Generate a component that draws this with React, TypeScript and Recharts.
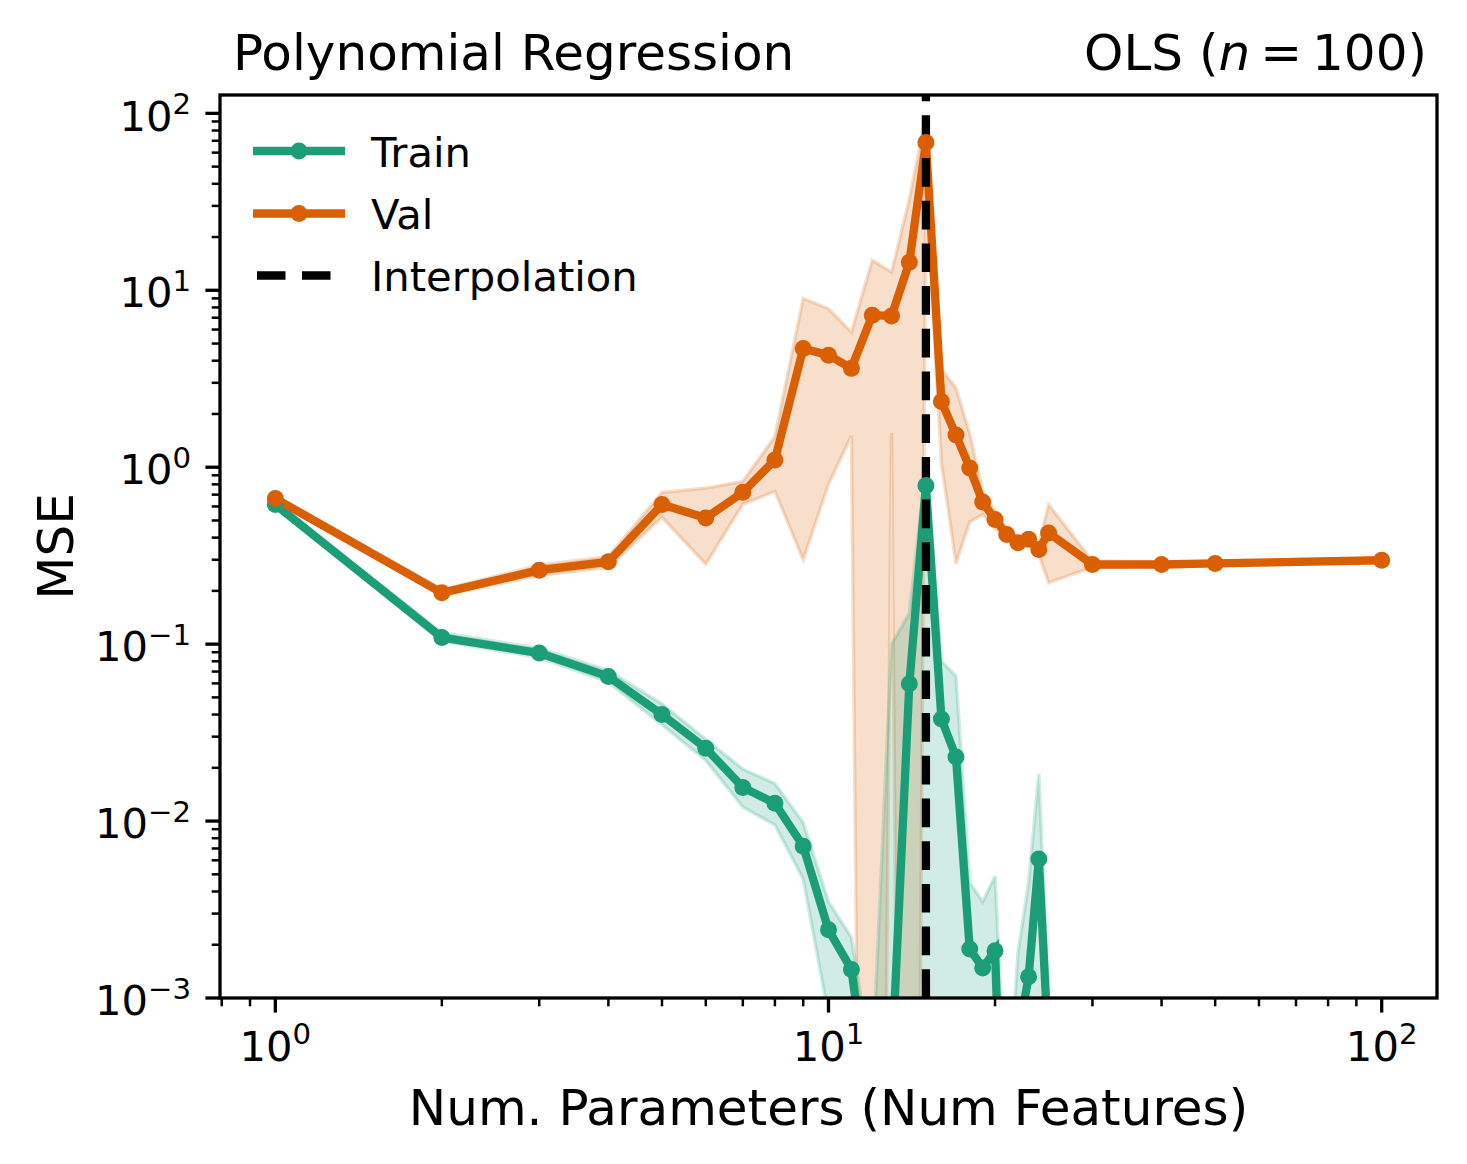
import React from 'react';
import {
  ComposedChart, Line, Area, XAxis, YAxis, ReferenceLine,
} from 'recharts';

// number of features used in each polynomial fit
const nParams = [1, 2, 3, 4, 5, 6, 7, 8, 9, 10, 11, 12, 13, 14, 15, 16, 17, 18, 19, 20, 21, 22, 23, 24, 25, 30, 40, 50, 100];

const trainMse = [0.615, 0.109, 0.089, 0.0657, 0.040, 0.0258, 0.0155, 0.0126, 0.0072, 0.00243, 0.00145, 2e-4, 4e-4, 0.0598, 0.787, 0.0378, 0.023, 0.00189, 0.00148, 0.00185, 2e-5, 6e-4, 0.00132, 0.0061, 5e-4, 8e-6, 5e-6, 4e-6, 2e-6];
const trainLow = [0.60, 0.104, 0.084, 0.061, 0.035, 0.022, 0.012, 0.0095, 0.0047, 0.0008, 0.0006, 1e-12, 1e-12, 1e-12, 1e-12, 1e-12, 1e-12, 1e-12, 1e-12, 1e-12, 1e-12, 1e-12, 1e-12, 1e-12, 1e-12, 1e-12, 1e-12, 1e-12, 1e-12];
const trainHigh = [0.63, 0.116, 0.095, 0.071, 0.046, 0.029, 0.0197, 0.0163, 0.0098, 0.0035, 0.0022, 4e-4, 0.1, 0.15, 1.0, 0.08, 0.066, 0.0045, 0.0035, 0.0049, 2e-4, 0.0018, 0.0045, 0.0185, 9e-4, 5e-5, 3e-5, 2e-5, 1e-5];

const valMse = [0.665, 0.195, 0.262, 0.292, 0.615, 0.517, 0.721, 1.10, 4.69, 4.30, 3.62, 7.23, 7.16, 14.4, 68.5, 2.35, 1.52, 0.99, 0.635, 0.506, 0.417, 0.374, 0.391, 0.343, 0.425, 0.282, 0.282, 0.286, 0.298];
const valLow = [0.65, 0.188, 0.245, 0.272, 0.52, 0.283, 0.617, 0.73, 0.30, 0.80, 1.50, 1e-12, 1.56, 1e-12, 40.0, 1.05, 0.286, 0.49, 0.54, 0.45, 0.39, 0.355, 0.37, 0.32, 0.222, 0.272, 0.276, 0.28, 0.29];
const valHigh = [0.68, 0.203, 0.28, 0.313, 0.72, 0.762, 0.832, 1.49, 9.0, 7.87, 5.82, 14.8, 12.7, 32.8, 96.8, 3.6, 2.8, 1.55, 0.73, 0.56, 0.45, 0.40, 0.42, 0.37, 0.615, 0.295, 0.29, 0.293, 0.306];

const interpolationAt = 15;

const xTicks = [0.8, 0.9, 1, 2, 3, 4, 5, 6, 7, 8, 9, 10, 20, 30, 40, 50, 60, 70, 80, 90, 100];
const yTicks = [
  0.001, 0.002, 0.003, 0.004, 0.005, 0.006, 0.007, 0.008, 0.009,
  0.01, 0.02, 0.03, 0.04, 0.05, 0.06, 0.07, 0.08, 0.09,
  0.1, 0.2, 0.3, 0.4, 0.5, 0.6, 0.7, 0.8, 0.9,
  1, 2, 3, 4, 5, 6, 7, 8, 9,
  10, 20, 30, 40, 50, 60, 70, 80, 90, 100,
];

const data = nParams.map((x, i) => ({
  x,
  train: trainMse[i],
  trainBand: [trainLow[i], trainHigh[i]],
  val: valMse[i],
  valBand: [valLow[i], valHigh[i]],
}));

const GREEN = '#1b9e77';
const ORANGE = '#d95f02';
const FONT = '"DejaVu Sans", sans-serif';
const W = 1467;
const H = 1164;
const PLOT = { left: 220, top: 95, right: 1437, bottom: 998 };

const MAJOR_LEN = 14.6;
const MINOR_LEN = 8.3;
const LW = 8.3;
const DOT_R = 8.5;

function exponent(v: number) {
  const e = Math.round(Math.log10(v));
  return Math.abs(Math.log10(v) - e) < 1e-6 ? e : null;
}
const sup = (e: number) => (e < 0 ? '\u2212' + Math.abs(e) : String(e));

function XTick(props: any) {
  const { x, payload } = props;
  const e = exponent(payload.value);
  const major = e !== null;
  return (
    <g>
      <line x1={x} x2={x} y1={PLOT.bottom} y2={PLOT.bottom + (major ? MAJOR_LEN : MINOR_LEN)}
        stroke="#000" strokeWidth={major ? 3.3 : 2.5} />
      {major && (
        <text x={x} y={1061} textAnchor="middle" fontFamily={FONT} fontSize={41.7} fill="#000">
          10<tspan dy={-16.7} fontSize={29.2}>{sup(e as number)}</tspan>
        </text>
      )}
    </g>
  );
}

function YTick(props: any) {
  const { y, payload } = props;
  const e = exponent(payload.value);
  const major = e !== null;
  return (
    <g>
      <line x1={PLOT.left - (major ? MAJOR_LEN : MINOR_LEN)} x2={PLOT.left} y1={y} y2={y}
        stroke="#000" strokeWidth={major ? 3.3 : 2.5} />
      {major && (
        <text x={191} y={y + 17.2} textAnchor="end" fontFamily={FONT} fontSize={41.7} fill="#000">
          10<tspan dy={-16.7} fontSize={29.2}>{sup(e as number)}</tspan>
        </text>
      )}
    </g>
  );
}

function Overlay() {
  return (
    <svg width={W} height={H} style={{ position: 'absolute', left: 0, top: 0, pointerEvents: 'none' }}>
      <rect x={PLOT.left} y={PLOT.top} width={PLOT.right - PLOT.left} height={PLOT.bottom - PLOT.top}
        fill="none" stroke="#000" strokeWidth={3.3} />
      <text x={233} y={70} fontFamily={FONT} fontSize={50} fill="#000">Polynomial Regression</text>
      <text x={1427} y={70} textAnchor="end" fontFamily={FONT} fontSize={50} fill="#000">
        OLS (<tspan fontStyle="italic">n</tspan>{'\u2009=\u2009'}100)
      </text>
      <text x={(PLOT.left + PLOT.right) / 2} y={1125} textAnchor="middle" fontFamily={FONT} fontSize={50} fill="#000">
        Num. Parameters (Num Features)
      </text>
      <text transform={`translate(73, ${(PLOT.top + PLOT.bottom) / 2}) rotate(-90)`} textAnchor="middle"
        fontFamily={FONT} fontSize={50} fill="#000">MSE</text>

      {/* legend */}
      <line x1={253} x2={345} y1={151} y2={151} stroke={GREEN} strokeWidth={LW} />
      <circle cx={299} cy={151} r={DOT_R} fill={GREEN} />
      <text x={371} y={166.5} fontFamily={FONT} fontSize={41.7} fill="#000">Train</text>
      <line x1={253} x2={345} y1={213.5} y2={213.5} stroke={ORANGE} strokeWidth={LW} />
      <circle cx={299} cy={213.5} r={DOT_R} fill={ORANGE} />
      <text x={371} y={228.5} fontFamily={FONT} fontSize={41.7} fill="#000">Val</text>
      <line x1={257} x2={332} y1={275.5} y2={275.5} stroke="#000" strokeWidth={LW} strokeDasharray="28.5 16.5" />
      <text x={371} y={290.5} fontFamily={FONT} fontSize={41.7} fill="#000">Interpolation</text>
    </svg>
  );
}

export default function App() {
  return (
    <div style={{ position: 'absolute', left: 0, top: 0, width: W, height: H, background: '#fff' }}>
      <ComposedChart width={W} height={H} data={data}
        margin={{ top: PLOT.top, right: W - PLOT.right, left: 0, bottom: 0 }}>
        <XAxis dataKey="x" type="number" scale="log" domain={[0.7943, 125.89]} allowDataOverflow
          ticks={xTicks} interval={0} tick={<XTick />} tickLine={false} axisLine={false}
          tickSize={0} tickMargin={0} height={H - PLOT.bottom} />
        <YAxis type="number" scale="log" domain={[0.001, 127]} allowDataOverflow
          ticks={yTicks} interval={0} tick={<YTick />} tickLine={false} axisLine={false}
          tickSize={0} tickMargin={0} width={PLOT.left} />
        <Area dataKey="valBand" type="linear" fill={ORANGE} fillOpacity={0.2}
          stroke={ORANGE} strokeOpacity={0.2} strokeWidth={3.5} isAnimationActive={false} activeDot={false} />
        <Area dataKey="trainBand" type="linear" fill={GREEN} fillOpacity={0.2}
          stroke={GREEN} strokeOpacity={0.2} strokeWidth={3.5} isAnimationActive={false} activeDot={false} />
        <Line dataKey="train" type="linear" stroke={GREEN} strokeWidth={LW}
          dot={{ r: DOT_R, fill: GREEN, stroke: 'none' }} activeDot={false} isAnimationActive={false} />
        <Line dataKey="val" type="linear" stroke={ORANGE} strokeWidth={LW}
          dot={{ r: DOT_R, fill: ORANGE, stroke: 'none' }} activeDot={false} isAnimationActive={false} />
        <ReferenceLine x={interpolationAt} stroke="#000" strokeWidth={LW} strokeDasharray="28.7 14" />
      </ComposedChart>
      <Overlay />
    </div>
  );
}
